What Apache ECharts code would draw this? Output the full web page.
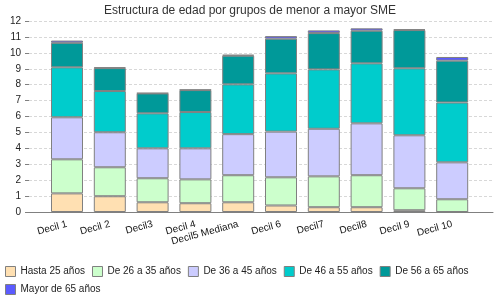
<!DOCTYPE html>
<html><head><meta charset="utf-8">
<script src="https://cdn.jsdelivr.net/npm/echarts@6/dist/echarts.min.js"></script>
<style>html,body{margin:0;padding:0;background:#fff}#c{width:500px;height:300px}</style>
</head><body><div id="c"></div>
<script>
var title = "Estructura de edad por grupos de menor a mayor SME";
var categories = ["Decil 1","Decil 2","Decil3","Decil 4","Decil5 Mediana","Decil 6","Decil7","Decil8","Decil 9","Decil 10"];
var seriesNames = ["Hasta 25 años","De 26 a 35 años","De 36 a 45 años","De 46 a 55 años","De 56 a 65 años","Mayor de 65 años"];
var hasta25 = [1.17, 0.99, 0.61, 0.55, 0.61, 0.41, 0.30, 0.30, 0.11, 0.00];
var de26a35 = [2.14, 1.82, 1.51, 1.50, 1.70, 1.77, 1.94, 2.01, 1.38, 0.80];
var de36a45 = [2.64, 2.20, 1.88, 1.95, 2.58, 2.87, 2.99, 3.26, 3.33, 2.32];
var de46a55 = [3.14, 2.59, 2.20, 2.28, 3.13, 3.66, 3.73, 3.77, 4.21, 3.76];
var de56a65 = [1.54, 1.44, 1.25, 1.38, 1.80, 2.18, 2.28, 2.05, 2.40, 2.63];
var mayor65 = [0.14, 0.05, 0.03, 0.03, 0.06, 0.16, 0.17, 0.15, 0.05, 0.23];
var yTicks = [0,1,2,3,4,5,6,7,8,9,10,11,12];
var colors = ["#FFE0B2","#CCFFCC","#CCCCFF","#00CCCC","#009999","#5B5BFF"];

var values = [hasta25, de26a35, de36a45, de46a55, de56a65, mayor65];
var chart = echarts.init(document.getElementById('c'), null, {renderer:'canvas'});
var font = "'Liberation Sans', Arial, sans-serif";
var series = seriesNames.map(function(n, i){
  return {
    name: n, type: 'bar', stack: 'total', xAxisIndex: 1, yAxisIndex: 1,
    barWidth: 32, data: values[i],
    itemStyle: {color: colors[i], borderColor: '#808080', borderWidth: 1},
    emphasis: {disabled: true}
  };
});
chart.setOption({
  animation: false,
  backgroundColor: '#fff',
  title: {text: title, left: 'center', top: 0,
    textStyle: {fontFamily: font, fontSize: 12, fontWeight: 'normal', color: '#333'}},
  legend: {
    left: 5, top: 266, width: 490, padding: 0, itemWidth: 10, itemHeight: 10, itemGap: 7,
    icon: 'rect', data: seriesNames,
    textStyle: {fontFamily: font, fontSize: 10, color: '#222'},
    itemStyle: {borderColor: '#808080', borderWidth: 1}
  },
  grid: [
    {left: 29, right: 7, top: 21, height: 191},
    {left: 45.6, width: 428, top: 21, height: 191}
  ],
  xAxis: [
    {gridIndex: 0, type: 'value', min: 0, max: 1,
      axisLine: {show: true, lineStyle: {color: '#808080', width: 1}},
      axisTick: {show: false}, axisLabel: {show: false}, splitLine: {show: false}},
    {gridIndex: 1, type: 'category', data: categories,
      axisLine: {show: false}, axisTick: {show: false},
      axisLabel: {rotate: 15, margin: 12, interval: 0, fontFamily: font, fontSize: 10, color: '#111'}}
  ],
  yAxis: [
    {gridIndex: 0, type: 'value', min: yTicks[0], max: yTicks[yTicks.length-1], interval: 1,
      axisLine: {show: false},
      axisTick: {show: true, length: 4, lineStyle: {color: '#808080'}},
      axisLabel: {margin: 8, fontFamily: font, fontSize: 10, color: '#222'},
      splitLine: {show: true, lineStyle: {color: '#d8d8d8', type: [3,2], width: 1}}},
    {gridIndex: 1, type: 'value', min: yTicks[0], max: yTicks[yTicks.length-1], interval: 1,
      show: false, splitLine: {show: false}}
  ],
  series: series
});
</script></body></html>
